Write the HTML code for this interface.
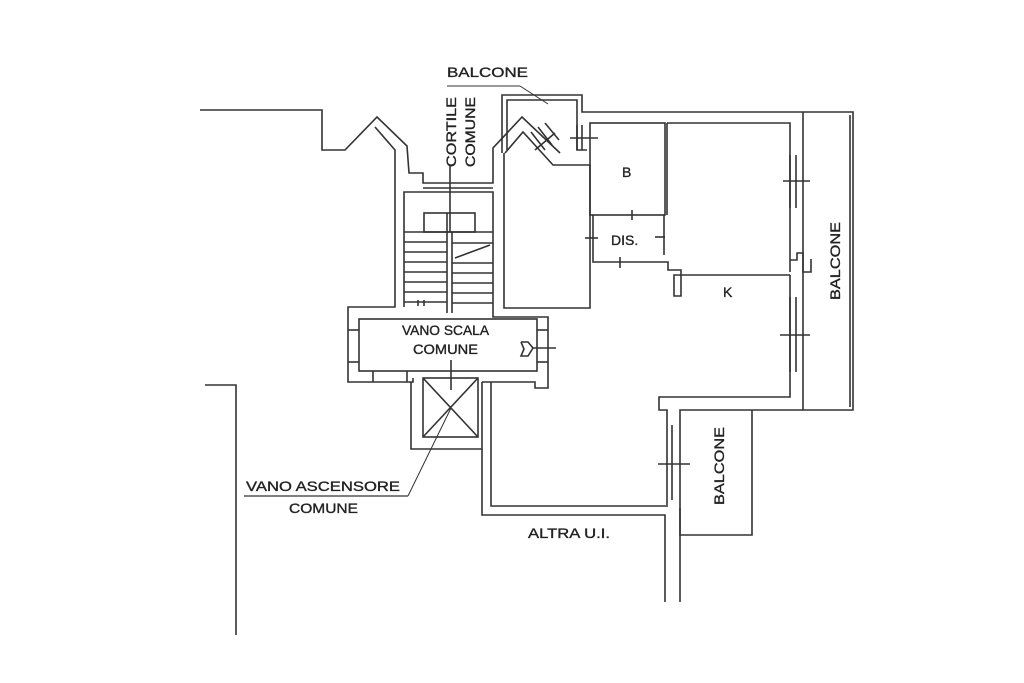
<!DOCTYPE html>
<html><head><meta charset="utf-8"><style>
html,body{margin:0;padding:0;background:#fff;}
svg{display:block}
text{font-family:"Liberation Sans",sans-serif;fill:#222;stroke:#222;stroke-width:0.35}
</style></head><body>
<svg width="1024" height="683" viewBox="0 0 1024 683" xmlns="http://www.w3.org/2000/svg">
<g fill="none" stroke="#333" stroke-width="1.6" stroke-linejoin="miter">
<polyline points="200,110 322,110 322,150 345,150 377,117 407,146 409,173 423,173 423,183 493,183 493,148 522,117 560,153"/>
<polyline points="375,127 395,150 395,307 348,307 348,382 413,382 413,378"/>
<line x1="423" y1="188" x2="493" y2="188"/>
<polyline points="404,307 404,192 493,192 493,307"/>
<rect x="424" y="213" width="51" height="19"/>
<line x1="447" y1="213" x2="447" y2="313"/><line x1="452" y1="232" x2="452" y2="313"/>
<line x1="404" y1="232" x2="493" y2="232"/>
<line x1="404" y1="242" x2="447" y2="242"/><line x1="404" y1="252" x2="447" y2="252"/>
<line x1="404" y1="262" x2="447" y2="262"/><line x1="404" y1="272" x2="447" y2="272"/>
<line x1="404" y1="282" x2="447" y2="282"/><line x1="404" y1="292" x2="447" y2="292"/>
<line x1="404" y1="302" x2="447" y2="302"/>
<line x1="452" y1="243" x2="493" y2="243"/><line x1="452" y1="263" x2="493" y2="263"/>
<line x1="452" y1="273" x2="493" y2="273"/><line x1="452" y1="283" x2="493" y2="283"/>
<line x1="452" y1="293" x2="493" y2="293"/><line x1="452" y1="303" x2="493" y2="303"/>
<line x1="455" y1="258" x2="490" y2="245"/>
<line x1="418" y1="300" x2="418" y2="306"/><line x1="424" y1="300" x2="424" y2="306"/>
<line x1="450" y1="165" x2="450" y2="232"/>
<rect x="359" y="319" width="178" height="52"/>
<polyline points="493,307 493,317 548,317 548,388 535,388 535,382 482,382"/>
<line x1="348" y1="330" x2="359" y2="330"/><line x1="348" y1="362" x2="359" y2="362"/>
<line x1="373" y1="371" x2="373" y2="382"/><line x1="407" y1="371" x2="407" y2="382"/>
<line x1="537" y1="330" x2="548" y2="330"/><line x1="537" y1="362" x2="548" y2="362"/>
<line x1="451" y1="360" x2="451" y2="390"/>
<polyline points="521,342 528,342 533,348 528,356 521,356 524,349 521,342"/>
<line x1="533" y1="348" x2="556" y2="348"/>
<polyline points="411,382 411,449 482,449 482,382"/>
<rect x="423" y="378" width="55" height="59"/>
<line x1="423" y1="378" x2="478" y2="437"/><line x1="478" y1="378" x2="423" y2="437"/>
<line x1="451" y1="408" x2="408" y2="496" stroke-width="1"/>
<line x1="244" y1="496" x2="408" y2="496" stroke-width="1.2"/>
<polyline points="205,385 236,385 236,635"/>
<polyline points="482,449 482,515 665,515 665,602"/>
<polyline points="491,382 491,506 668,506"/>
<polyline points="502,153 502,95 582,95 582,112 803,112"/>
<polyline points="507,150 507,100 577,100 577,150 587,150"/>
<line x1="577" y1="125" x2="577" y2="150"/><line x1="582" y1="125" x2="582" y2="150"/>
<line x1="570" y1="138" x2="598" y2="138"/>
<line x1="531" y1="132" x2="545" y2="150"/><line x1="538" y1="127" x2="552" y2="145"/><line x1="545" y1="123" x2="559" y2="140"/>
<line x1="535" y1="150" x2="555" y2="133"/>
<polyline points="505,153 523,132 553,165 590,165"/>
<polyline points="504,153 504,308 590,308 590,165"/>
<line x1="548" y1="104" x2="520" y2="86" stroke-width="1"/>
<line x1="447" y1="86" x2="520" y2="86" stroke-width="1"/>
<rect x="590" y="123" width="75" height="92"/>
<polyline points="593,215 593,262 660,262 668,262 668,270 681,270 681,296 674,296 674,275 790,275"/>
<line x1="664" y1="215" x2="664" y2="255"/>
<line x1="585" y1="238" x2="598" y2="238"/><line x1="632" y1="210" x2="632" y2="220"/>
<line x1="620" y1="257" x2="620" y2="268"/><line x1="655" y1="237" x2="665" y2="237"/>
<polyline points="667,123 790,123 790,272"/>
<line x1="667" y1="123" x2="667" y2="215"/>
<polyline points="803,112 803,410 853,410 853,112 803,112"/>
<line x1="850" y1="115" x2="850" y2="407"/>
<line x1="790" y1="155" x2="790" y2="208"/><line x1="796" y1="155" x2="796" y2="208"/>
<line x1="783" y1="181" x2="810" y2="181"/>
<polyline points="790,260 797,260 797,253 803,253 803,272 811,272 811,259"/>
<line x1="790" y1="297" x2="790" y2="372"/><line x1="796" y1="297" x2="796" y2="372"/>
<line x1="780" y1="335" x2="810" y2="335"/>
<polyline points="790,275 790,397 659,397 659,410 667,410 667,505"/>
<polyline points="803,410 680,410 680,535 752,535 752,410"/>
<line x1="672" y1="425" x2="672" y2="500"/>
<line x1="658" y1="464" x2="690" y2="464"/>
<line x1="680" y1="508" x2="680" y2="602"/>
</g>
<g font-size="14">
<text x="447" y="77" textLength="81" lengthAdjust="spacingAndGlyphs">BALCONE</text>
<text transform="translate(456,167) rotate(-90)" textLength="70" lengthAdjust="spacingAndGlyphs">CORTILE</text>
<text transform="translate(475,167) rotate(-90)" textLength="70" lengthAdjust="spacingAndGlyphs">COMUNE</text>
<text x="622" y="177">B</text>
<text x="611" y="245">DIS.</text>
<text x="723" y="297">K</text>
<text transform="translate(840,300) rotate(-90)" textLength="78" lengthAdjust="spacingAndGlyphs">BALCONE</text>
<text transform="translate(724,505) rotate(-90)" textLength="78" lengthAdjust="spacingAndGlyphs">BALCONE</text>
<text x="402" y="335" textLength="87" lengthAdjust="spacingAndGlyphs">VANO SCALA</text>
<text x="413" y="354" textLength="65" lengthAdjust="spacingAndGlyphs">COMUNE</text>
<text x="246" y="491" textLength="154" lengthAdjust="spacingAndGlyphs">VANO ASCENSORE</text>
<text x="289" y="513" textLength="69" lengthAdjust="spacingAndGlyphs">COMUNE</text>
<text x="528" y="538" textLength="82" lengthAdjust="spacingAndGlyphs">ALTRA U.I.</text>
</g>
</svg>
</body></html>
